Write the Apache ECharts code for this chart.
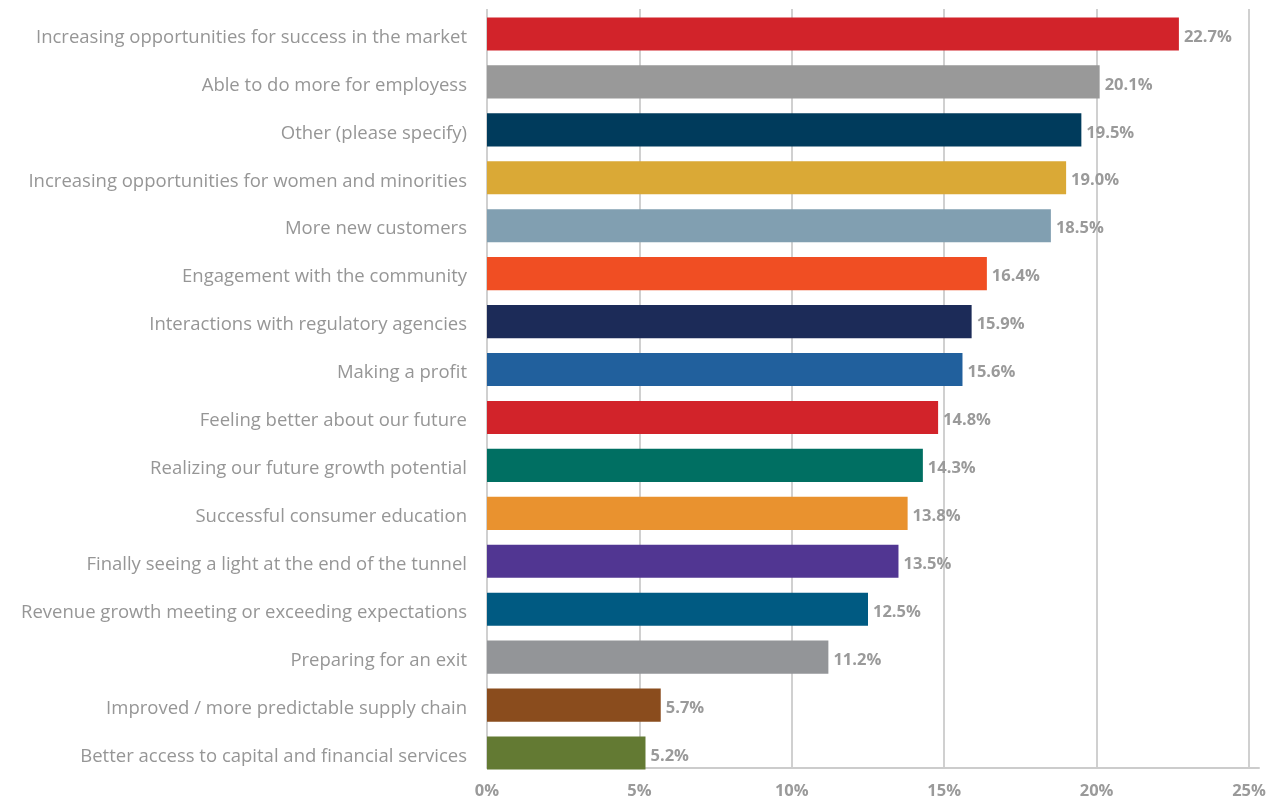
<!DOCTYPE html>
<html>
<head>
<meta charset="utf-8">
<script src="https://cdn.jsdelivr.net/npm/echarts@6/dist/echarts.min.js"></script>
<style>
  html, body { margin: 0; padding: 0; background: #ffffff; }
  #chart { width: 1274px; height: 800px; }
</style>
</head>
<body>
<div id="chart"></div>
<script>
// Survey responses, listed top to bottom
const categories = [
  'Increasing opportunities for success in the market',
  'Able to do more for employess',
  'Other (please specify)',
  'Increasing opportunities for women and minorities',
  'More new customers',
  'Engagement with the community',
  'Interactions with regulatory agencies',
  'Making a profit',
  'Feeling better about our future',
  'Realizing our future growth potential',
  'Successful consumer education',
  'Finally seeing a light at the end of the tunnel',
  'Revenue growth meeting or exceeding expectations',
  'Preparing for an exit',
  'Improved / more predictable supply chain',
  'Better access to capital and financial services'
];
const values = [22.7, 20.1, 19.5, 19.0, 18.5, 16.4, 15.9, 15.6, 14.8, 14.3, 13.8, 13.5, 12.5, 11.2, 5.7, 5.2];
const barColors = [
  '#D2232A', '#999999', '#003B5C', '#DAA936', '#819FB1', '#F04E23', '#1C2B58', '#21609D',
  '#D2232A', '#006F62', '#E9922F', '#513692', '#005A82', '#939598', '#8A4C1D', '#637A33'
];
const xTicks = [0, 5, 10, 15, 20, 25];

const FONT = '"Open Sans", "Noto Sans", sans-serif';
const GREY = '#9a9a9a';
const xMin = xTicks[0];
const xMax = xTicks[xTicks.length - 1];
const xStep = xTicks[1] - xTicks[0];

const chart = echarts.init(document.getElementById('chart'));
chart.setOption({
  animation: false,
  grid: [
    // bars: the category bands run slightly below the baseline
    { left: 487, right: 25, top: 10, bottom: 23 },
    // scale, gridlines and tick labels
    { left: 487, right: 25, top: 9, bottom: 32 },
    // baseline that runs a little past the last gridline
    { left: 487, right: 15, top: 9, bottom: 32 }
  ],
  xAxis: [
    {
      gridIndex: 0, type: 'value', min: xMin, max: xMax, interval: xStep,
      axisLine: { show: false }, axisTick: { show: false },
      splitLine: { show: false }, axisLabel: { show: false }
    },
    {
      gridIndex: 1, type: 'value', min: xMin, max: xMax, interval: xStep,
      axisLine: { show: false },
      axisTick: { show: false },
      splitLine: { show: true, lineStyle: { color: '#d0d0d0', width: 2 } },
      axisLabel: {
        formatter: v => v + '%',
        color: GREY,
        fontFamily: FONT,
        fontWeight: 'bold',
        fontSize: 16.5,
        margin: 15
      }
    },
    {
      gridIndex: 2, type: 'value', min: 0, max: 1,
      axisLine: { show: true, lineStyle: { color: '#cccccc', width: 2 } },
      axisTick: { show: false }, splitLine: { show: false }, axisLabel: { show: false }
    }
  ],
  yAxis: [
    {
      gridIndex: 0,
      type: 'category',
      inverse: true,
      data: categories,
      axisLine: { show: false },
      axisTick: { show: false },
      axisLabel: {
        color: '#969696',
        fontFamily: FONT,
        fontSize: 18.5,
        margin: 20,
        // sit the text a few pixels below the bar centre
        verticalAlign: 'top',
        lineHeight: 7
      }
    },
    { gridIndex: 1, type: 'value', show: false },
    { gridIndex: 2, type: 'value', show: false }
  ],
  series: [{
    type: 'bar',
    xAxisIndex: 0,
    yAxisIndex: 0,
    data: values.map((v, i) => ({ value: v, itemStyle: { color: barColors[i] } })),
    barCategoryGap: '31%',
    z: 3,
    label: {
      show: true,
      position: 'right',
      distance: 5,
      offset: [0, 3],
      formatter: p => p.value.toFixed(1) + '%',
      color: GREY,
      fontFamily: FONT,
      fontWeight: 'bold',
      fontSize: 16.5
    }
  }]
});
</script>
</body>
</html>
